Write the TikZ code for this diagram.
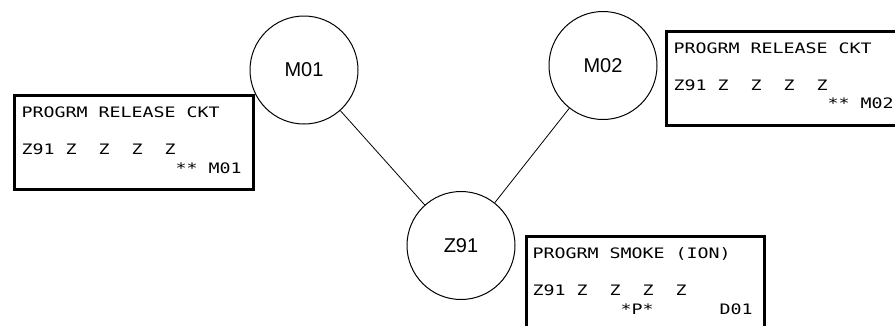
\documentclass[tikz,border=0pt]{standalone}
\usepackage{fontspec}
\setmainfont{Liberation Sans}
\newfontfamily\lcdfont[FakeStretch=1.269]{DejaVu Sans Mono}
\begin{document}
\begin{tikzpicture}[x=1pt,y=-1pt,
  dev/.style={circle,draw,line width=1pt,minimum size=108pt,inner sep=0pt,
    font=\fontsize{20}{24}\selectfont},
  lcdbox/.style={draw,line width=3pt,minimum width=238.4pt,minimum height=94pt,
    inner sep=0pt,anchor=north west},
  lcd/.style={anchor=base west,inner sep=0pt,
    font=\lcdfont\fontsize{14.4}{16}\selectfont},
  wire/.style={line width=0.8pt}]
\useasboundingbox (0,0) rectangle (895,325);
\clip (0,0) rectangle (895,325);
% devices
\node[dev] (m01) at (304,70) {M01};
\node[dev] (m02) at (603,65.5) {M02};
\node[dev] (z91) at (461,245.5) {Z91};
\draw[wire] (m01) -- (z91);
\draw[wire] (m02) -- (z91);
% left display
\node[lcdbox] (b1) at (13.3,94.3) {};
\node[lcd] (b1a) at ([shift={(8,23.5)}]b1.north west) {PROGRM RELEASE CKT};
\node[lcd] (b1b) at ([shift={(8,60.5)}]b1.north west) {Z91\ Z\ \ Z\ \ Z\ \ Z};
\node[lcd] (b1c) at ([shift={(162,79)}]b1.north west) {** M01};
% right display
\node[lcdbox] (b2) at (665.3,29.7) {};
\node[lcd] (b2a) at ([shift={(8,23.5)}]b2.north west) {PROGRM RELEASE CKT};
\node[lcd] (b2b) at ([shift={(8,60.5)}]b2.north west) {Z91\ Z\ \ Z\ \ Z\ \ Z};
\node[lcd] (b2c) at ([shift={(162,79)}]b2.north west) {** M02};
% bottom display
\node[lcdbox] (b3) at (524.5,235.3) {};
\node[lcd] (b3a) at ([shift={(8,23.5)}]b3.north west) {PROGRM SMOKE (ION)};
\node[lcd] (b3b) at ([shift={(8,60.5)}]b3.north west) {Z91\ Z\ \ Z\ \ Z\ \ Z};
\node[lcd] (b3c) at ([shift={(96,79)}]b3.north west) {*P*};
\node[lcd] (b3d) at ([shift={(195,79)}]b3.north west) {D01};
\end{tikzpicture}
\end{document}
